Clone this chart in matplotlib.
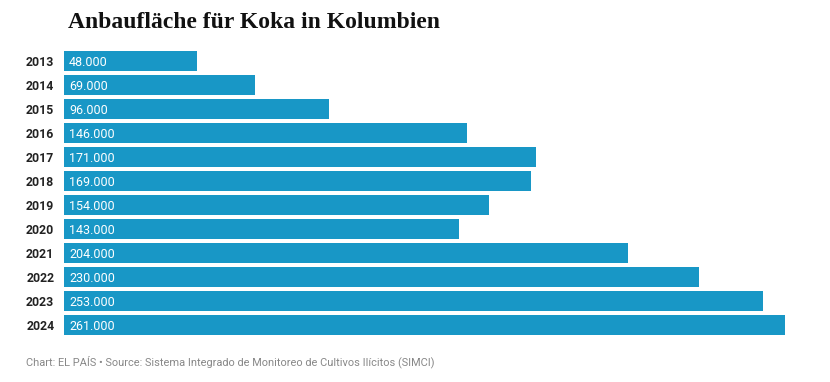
import numpy as np
import matplotlib.pyplot as plt

years = ["2013", "2014", "2015", "2016", "2017", "2018",
         "2019", "2020", "2021", "2022", "2023", "2024"]
area = [48000, 69000, 96000, 146000, 171000, 169000,
        154000, 143000, 204000, 230000, 253000, 261000]
value_labels = ["48.000", "69.000", "96.000", "146.000", "171.000", "169.000",
                "154.000", "143.000", "204.000", "230.000", "253.000", "261.000"]

title = "Anbaufläche für Koka in Kolumbien"
footer = "Chart: EL PAÍS • Source: Sistema Integrado de Monitoreo de Cultivos Ilícitos (SIMCI)"

bar_color = "#1897c6"

fig = plt.figure(figsize=(8.3, 3.82), dpi=100)
ax = fig.add_axes([64 / 830, 1 - 337 / 382, 721 / 830, 288 / 382])

y = np.arange(len(years))
ax.barh(y, area, height=20 / 24, color=bar_color, left=0)

ax.set_xlim(0, max(area))
ax.set_ylim(len(years) - 0.5, -0.5)

# value labels inside bars
for yi, lab in zip(y, value_labels):
    ax.text(5 / 721 * max(area), yi, lab, color="white", fontsize=9,
            family="Roboto", ha="left", va="center_baseline")

# year labels on the left
ax.set_yticks(y)
ax.set_yticklabels(years, fontsize=8.8, fontweight="bold", family="Roboto", color="#222222")
ax.tick_params(axis="y", length=0, pad=7)
ax.set_xticks([])
for s in ax.spines.values():
    s.set_visible(False)

fig.text(68 / 830, 1 - 23 / 382, title, fontsize=17, fontweight="bold",
         family="Liberation Serif", ha="left", va="center", color="#111111")
fig.text(26 / 830, 1 - 362 / 382, footer, fontsize=7.9, family="Roboto",
         color="#888888", ha="left", va="center")

fig.savefig("out.png", dpi=100)
